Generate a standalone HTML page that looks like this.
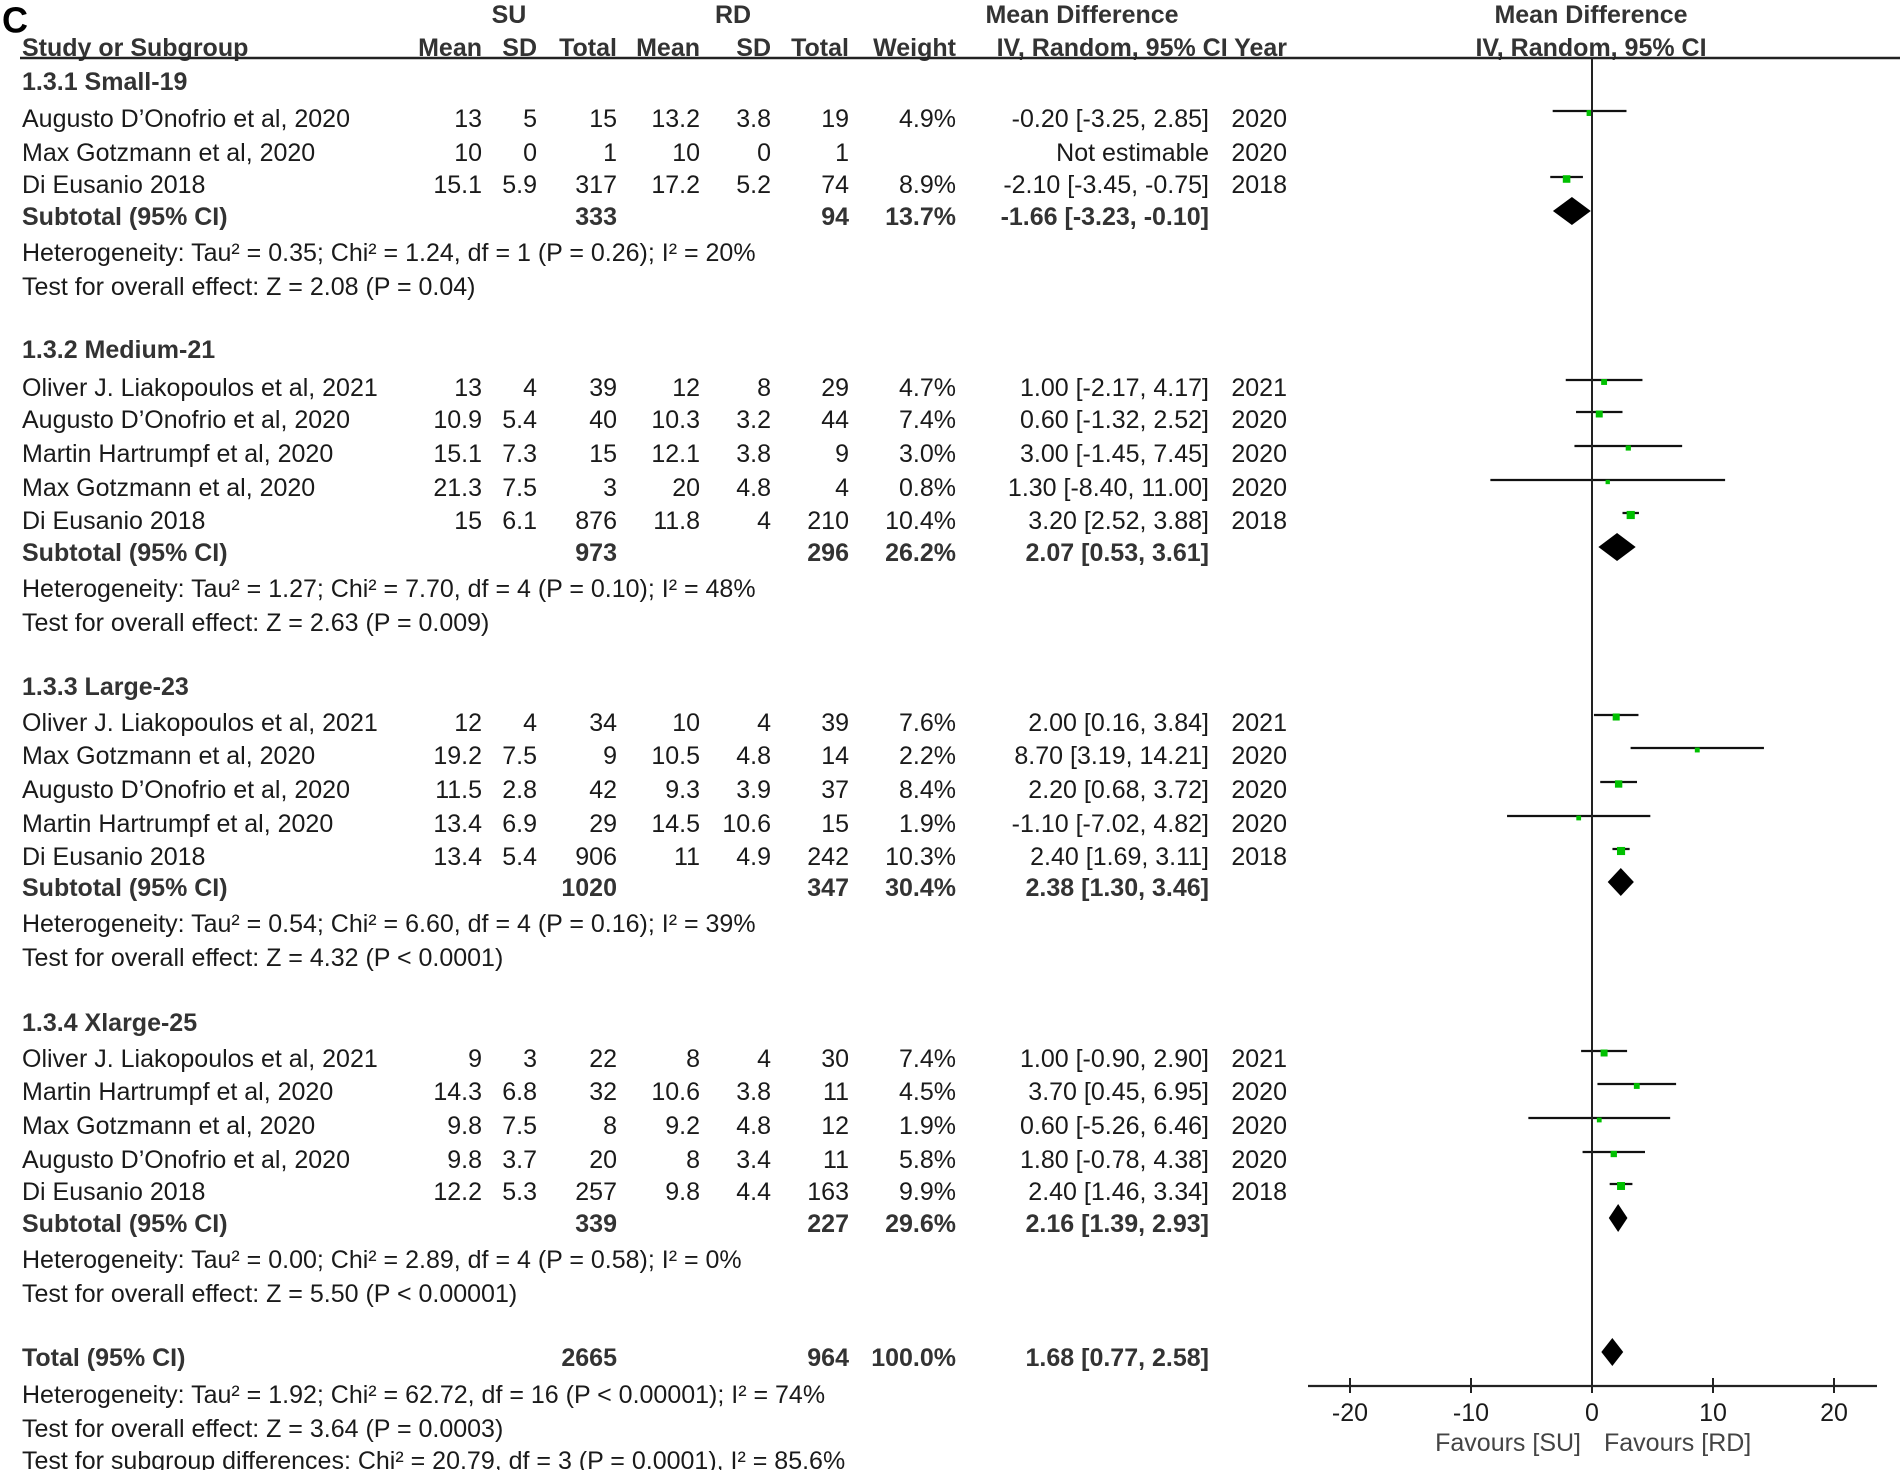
<!DOCTYPE html>
<html><head><meta charset="utf-8"><style>
html,body{margin:0;padding:0;background:#fff;}
svg{display:block;font-family:"Liberation Sans",Arial,sans-serif;}
text{fill:#1a1a1a;font-size:25px;dominant-baseline:central;}
.b{font-weight:bold;fill:#333;}
.r{text-anchor:end;}
.m{text-anchor:middle;}
</style></head><body>
<svg id="svg" width="1900" height="1470" viewBox="0 0 1900 1470" xmlns="http://www.w3.org/2000/svg">
<g id="tbl"></g>
<g id="plot"></g>
</svg>
<script>
// ---- data arrays ----
const studyNames = ["Augusto D\u2019Onofrio et al, 2020","Max Gotzmann et al, 2020","Di Eusanio 2018",
"Oliver J. Liakopoulos et al, 2021","Augusto D\u2019Onofrio et al, 2020","Martin Hartrumpf et al, 2020","Max Gotzmann et al, 2020","Di Eusanio 2018",
"Oliver J. Liakopoulos et al, 2021","Max Gotzmann et al, 2020","Augusto D\u2019Onofrio et al, 2020","Martin Hartrumpf et al, 2020","Di Eusanio 2018",
"Oliver J. Liakopoulos et al, 2021","Martin Hartrumpf et al, 2020","Max Gotzmann et al, 2020","Augusto D\u2019Onofrio et al, 2020","Di Eusanio 2018"];
const studyGroup = [0,0,0,1,1,1,1,1,2,2,2,2,2,3,3,3,3,3];
const suMean = ["13","10","15.1","13","10.9","15.1","21.3","15","12","19.2","11.5","13.4","13.4","9","14.3","9.8","9.8","12.2"];
const suSD = ["5","0","5.9","4","5.4","7.3","7.5","6.1","4","7.5","2.8","6.9","5.4","3","6.8","7.5","3.7","5.3"];
const suN = ["15","1","317","39","40","15","3","876","34","9","42","29","906","22","32","8","20","257"];
const rdMean = ["13.2","10","17.2","12","10.3","12.1","20","11.8","10","10.5","9.3","14.5","11","8","10.6","9.2","8","9.8"];
const rdSD = ["3.8","0","5.2","8","3.2","3.8","4.8","4","4","4.8","3.9","10.6","4.9","4","3.8","4.8","3.4","4.4"];
const rdN = ["19","1","74","29","44","9","4","210","39","14","37","15","242","30","11","12","11","163"];
const studyYear = ["2020","2020","2018","2021","2020","2020","2020","2018","2021","2020","2020","2020","2018","2021","2020","2020","2020","2018"];
const weight = [4.9,null,8.9,4.7,7.4,3.0,0.8,10.4,7.6,2.2,8.4,1.9,10.3,7.4,4.5,1.9,5.8,9.9];
const md = [-0.20,null,-2.10,1.00,0.60,3.00,1.30,3.20,2.00,8.70,2.20,-1.10,2.40,1.00,3.70,0.60,1.80,2.40];
const ciLo = [-3.25,null,-3.45,-2.17,-1.32,-1.45,-8.40,2.52,0.16,3.19,0.68,-7.02,1.69,-0.90,0.45,-5.26,-0.78,1.46];
const ciHi = [2.85,null,-0.75,4.17,2.52,7.45,11.00,3.88,3.84,14.21,3.72,4.82,3.11,2.90,6.95,6.46,4.38,3.34];
const groupTitles = ["1.3.1 Small-19","1.3.2 Medium-21","1.3.3 Large-23","1.3.4 Xlarge-25"];
const subSU = ["333","973","1020","339"];
const subRD = ["94","296","347","227"];
const subW = ["13.7%","26.2%","30.4%","29.6%"];
const subMD = [-1.66,2.07,2.38,2.16];
const subLo = [-3.23,0.53,1.30,1.39];
const subHi = [-0.10,3.61,3.46,2.93];
const subHet = ["Heterogeneity: Tau\u00b2 = 0.35; Chi\u00b2 = 1.24, df = 1 (P = 0.26); I\u00b2 = 20%",
"Heterogeneity: Tau\u00b2 = 1.27; Chi\u00b2 = 7.70, df = 4 (P = 0.10); I\u00b2 = 48%",
"Heterogeneity: Tau\u00b2 = 0.54; Chi\u00b2 = 6.60, df = 4 (P = 0.16); I\u00b2 = 39%",
"Heterogeneity: Tau\u00b2 = 0.00; Chi\u00b2 = 2.89, df = 4 (P = 0.58); I\u00b2 = 0%"];
const subTest = ["Test for overall effect: Z = 2.08 (P = 0.04)","Test for overall effect: Z = 2.63 (P = 0.009)",
"Test for overall effect: Z = 4.32 (P < 0.0001)","Test for overall effect: Z = 5.50 (P < 0.00001)"];
const totalMD = 1.68, totalLo = 0.77, totalHi = 2.58;
const xTicks = [-20,-10,0,10,20];

// ---- layout ----
const NS="http://www.w3.org/2000/svg";
const tbl=document.getElementById('tbl'), plot=document.getElementById('plot');
function mk(tag,attrs,parent){const e=document.createElementNS(NS,tag);for(const k in attrs)e.setAttribute(k,attrs[k]);parent.appendChild(e);return e;}
function txt(s,x,y,cls,name,parent){const t=mk('text',{x:x,y:y},parent||tbl);if(cls)t.setAttribute('class',cls);t.textContent=s;


return t;}
const X0=1592, PX=12.1;
function xs(v){return X0+v*PX;}
const cols=[482,537,617,700,771,849,956,1209,1287];
const groupY=[82,350,687,1023];
const rowYs=[[119,153,185],[388,420,454,488,521],[723,756,790,824,857],[1059,1092,1126,1160,1192]];
const subY=[217,553,888,1224];
const OFF=-8;

// headers
txt("C",2,20,"b","panel-label").setAttribute('style','font-size:36px;fill:#000');
txt("SU",509,15,"b m","su-header");
txt("RD",733,15,"b m","rd-header");
txt("Mean Difference",1082,15,"b m","md-header");
txt("Mean Difference",1591,15,"b m","plot-header");
txt("Study or Subgroup",22,48,"b","study-col-header");
const hdr=["Mean","SD","Total","Mean","SD","Total","Weight"];
hdr.forEach((h,i)=>txt(h,cols[i],48,"b r","col-header-"+h.toLowerCase()));
txt("IV, Random, 95% CI Year",1287,48,"b r","ci-year-header");
txt("IV, Random, 95% CI",1591,48,"b m","plot-subheader");
mk('line',{x1:20,y1:58,x2:1900,y2:58,stroke:'#222','stroke-width':2.5},tbl);

// rows
let idx=0;
groupTitles.forEach((g,gi)=>{
  txt(g,22,groupY[gi],"b","subgroup-title");
  rowYs[gi].forEach(y=>{
    const i=idx++;
    txt(studyNames[i],22,y,"","study-name");
    const vals=[suMean[i],suSD[i],suN[i],rdMean[i],rdSD[i],rdN[i]];
    vals.forEach((v,c)=>txt(v,cols[c],y,"r","cell"));
    if(weight[i]!==null){
      txt(weight[i].toFixed(1)+"%",cols[6],y,"r","weight");
      txt(md[i].toFixed(2)+" ["+ciLo[i].toFixed(2)+", "+ciHi[i].toFixed(2)+"]",cols[7],y,"r","effect-ci");
      const py=y+OFF;
      const l=mk('line',{x1:xs(ciLo[i]),y1:py,x2:xs(ciHi[i]),y2:py,stroke:'#111','stroke-width':2.2},plot);
      
      
      const s=4+weight[i]*0.4;
      const r=mk('rect',{x:xs(md[i])-s/2,y:py+2-s/2,width:s,height:s,fill:'#00c000'},plot);
      
      
    } else {
      txt("Not estimable",cols[7],y,"r","effect-ci");
    }
    txt(studyYear[i],cols[8],y,"r","year");
  });
  const sy=subY[gi];
  txt("Subtotal (95% CI)",22,sy,"b","subtotal-label");
  txt(subSU[gi],cols[2],sy,"b r","subtotal-su");
  txt(subRD[gi],cols[5],sy,"b r","subtotal-rd");
  txt(subW[gi],cols[6],sy,"b r","subtotal-weight");
  txt(subMD[gi].toFixed(2)+" ["+subLo[gi].toFixed(2)+", "+subHi[gi].toFixed(2)+"]",cols[7],sy,"b r","subtotal-ci");
  const dy=sy+OFF+2;
  const d=mk('polygon',{points:`${xs(subLo[gi])},${dy} ${xs(subMD[gi])},${dy-14} ${xs(subHi[gi])},${dy} ${xs(subMD[gi])},${dy+14}`,fill:'#000'},plot);
  
  
  txt(subHet[gi],22,sy+36,"","heterogeneity");
  txt(subTest[gi],22,sy+70,"","overall-effect-test");
});
txt("Total (95% CI)",22,1358,"b","total-label");
txt("2665",cols[2],1358,"b r","total-su");
txt("964",cols[5],1358,"b r","total-rd");
txt("100.0%",cols[6],1358,"b r","total-weight");
txt(totalMD.toFixed(2)+" ["+totalLo.toFixed(2)+", "+totalHi.toFixed(2)+"]",cols[7],1358,"b r","total-ci");
txt("Heterogeneity: Tau\u00b2 = 1.92; Chi\u00b2 = 62.72, df = 16 (P < 0.00001); I\u00b2 = 74%",22,1395,"","total-heterogeneity");
txt("Test for overall effect: Z = 3.64 (P = 0.0003)",22,1429,"","total-effect-test");
txt("Test for subgroup differences: Chi\u00b2 = 20.79, df = 3 (P = 0.0001), I\u00b2 = 85.6%",22,1461,"","subgroup-differences-test");
{const dy=1352;
 const d=mk('polygon',{points:`${xs(totalLo)},${dy} ${xs(totalMD)},${dy-14} ${xs(totalHi)},${dy} ${xs(totalMD)},${dy+14}`,fill:'#000'},plot);
 
 }

// axes
const zl=mk('line',{x1:xs(0),y1:58,x2:xs(0),y2:1386,stroke:'#222','stroke-width':2},plot);


const ax=mk('line',{x1:1308,y1:1386,x2:1877,y2:1386,stroke:'#222','stroke-width':2.2},plot);


xTicks.forEach(t=>{
  const tk=mk('line',{x1:xs(t),y1:1378,x2:xs(t),y2:1393,stroke:'#222','stroke-width':2},plot);
  
  
  txt(String(t),xs(t),1413,"m","x-tick-label",plot);
});
txt("Favours [SU]",1581,1443,"r","favours-su-label",plot).setAttribute('style','fill:#444');
txt("Favours [RD]",1604,1443,"","favours-rd-label",plot).setAttribute('style','fill:#444');
</script>
</body></html>
